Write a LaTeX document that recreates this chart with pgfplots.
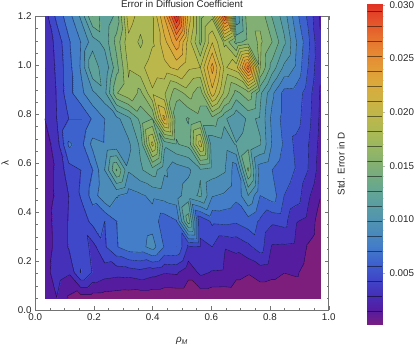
\documentclass[border=0pt]{standalone}
\usepackage{pgfplots}
\pgfplotsset{compat=1.18}
\usepackage{fontspec}
\setmainfont{Liberation Sans}
\makeatletter
% std. error in units of 1e-5; rows from y=0.05 (r0) to y=1.2 (r11), 24 columns from x=0.032 to x=0.970
\newcount\cc
\newcommand\setrow[2]{\global\cc=0 \@for\vv:=#2\do{\expandafter\xdef\csname V@#1@\the\cc\endcsname{\vv}\global\advance\cc 1 }}
\setrow{0}{240,278,120,75,75,70,60,50,40,40,40,40,40,40,40,40,50,50,40,40,40,40,40,30}
\setrow{1}{220,350,300,565,410,350,330,340,370,330,290,300,183,310,270,265,177,150,200,177,143,160,80,50}
\setrow{2}{210,320,430,530,370,540,690,780,790,900,690,700,400,415,420,290,316,386,490,265,260,250,125,50}
\setrow{3}{210,330,430,480,600,560,700,740,760,780,620,690,1350,430,590,600,580,640,540,446,470,290,240,70}
\setrow{4}{220,300,420,570,760,950,850,780,820,870,900,930,1050,1150,850,820,740,980,700,780,560,500,310,150}
\setrow{5}{230,300,500,560,700,980,1420,1000,1100,1200,1000,900,950,1100,1050,1000,750,1420,750,700,620,550,420,220}
\setrow{6}{210,350,720,650,880,850,880,950,1150,1870,1150,1250,1300,1900,1000,1050,1130,1220,1130,830,680,520,430,240}
\setrow{7}{280,420,560,560,720,840,940,1080,1300,1400,2150,1300,1250,1350,1350,1150,1000,1150,1100,800,650,620,470,260}
\setrow{8}{280,430,650,800,950,1070,1530,1650,1500,1800,1700,1450,1600,1450,2050,1650,1350,1500,1150,870,650,640,490,270}
\setrow{9}{280,450,650,850,1250,1000,1350,1700,1780,1900,1920,2000,1850,1820,2300,1800,1900,2600,1550,1200,950,820,560,300}
\setrow{10}{300,470,680,840,1050,1170,1450,1780,1650,1800,2050,2350,1900,1500,1950,1650,1350,1450,1570,1400,1150,850,600,290}
\setrow{11}{350,600,780,1000,1400,1150,1300,1900,1750,1800,2250,2950,2050,1500,1650,2700,1000,1500,1500,1250,1050,750,530,270}
\def\XX#1{\the\numexpr320+408*#1\relax}
\def\YY#1{\the\numexpr500+#1*11500/11\relax}
\def\VV#1#2{\csname V@#1@#2\endcsname}
\gdef\fillcoords{}
\foreach \r in {0,...,11}{\foreach \c in {0,...,23}{%
  \xdef\fillcoords{\fillcoords (\XX{\c}e-4,\YY{\r}e-4) [\VV{\r}{\c}]}}}
\newcount\nc
\def\cross#1#2#3#4#5#6{%
  \ifnum\numexpr\ifnum#3<\numexpr\L\relax 1\else 0\fi+\ifnum#6<\numexpr\L\relax 1\else 0\fi\relax=1
    \xdef\segs{\segs(\the\numexpr#1+(#4-#1)*(\L-#3)/(#6-#3)\relax e-4,\the\numexpr#2+(#5-#2)*(\L-#3)/(#6-#3)\relax e-4)}%
    \global\advance\nc 1
  \fi}
\def\tri#1#2#3#4#5#6#7#8#9{%
  \global\nc=0
  \cross{#1}{#2}{#3}{#4}{#5}{#6}%
  \cross{#4}{#5}{#6}{#7}{#8}{#9}%
  \cross{#7}{#8}{#9}{#1}{#2}{#3}%
  \ifnum\nc>0 \xdef\segs{\segs(nan,nan)}\fi}
\foreach \k in {1,...,21}{%
  \edef\L{\the\numexpr140*\k\relax}%
  \gdef\segs{}%
  \foreach \r in {0,...,10}{\foreach \c in {0,...,22}{%
    \edef\ra{\r}\edef\rb{\the\numexpr\r+1\relax}\edef\ca{\c}\edef\cb{\the\numexpr\c+1\relax}%
    \edef\xa{\XX{\ca}}\edef\xb{\XX{\cb}}\edef\ya{\YY{\ra}}\edef\yb{\YY{\rb}}%
    \edef\A{\VV{\ra}{\ca}}\edef\B{\VV{\ra}{\cb}}\edef\C{\VV{\rb}{\ca}}\edef\D{\VV{\rb}{\cb}}%
    \tri{\xa}{\ya}{\A}{\xb}{\ya}{\B}{\xa}{\yb}{\C}%
    \tri{\xb}{\ya}{\B}{\xb}{\yb}{\D}{\xa}{\yb}{\C}%
  }}%
  \expandafter\xdef\csname segs\k\endcsname{\segs}%
}
\makeatother
\pgfplotsset{colormap={mma}{
rgb255=(125,30,125) rgb255=(85,28,160) rgb255=(68,48,185) rgb255=(62,72,200) rgb255=(62,98,205)
rgb255=(68,125,200) rgb255=(75,140,185) rgb255=(85,152,170) rgb255=(95,162,155) rgb255=(110,170,135)
rgb255=(130,175,115) rgb255=(150,182,100) rgb255=(170,185,85) rgb255=(188,183,75) rgb255=(205,178,68)
rgb255=(218,170,60) rgb255=(226,155,55) rgb255=(230,135,50) rgb255=(230,110,46) rgb255=(228,80,42) rgb255=(225,50,38)}}
\definecolor{fr}{gray}{0.45}
\begin{document}
\begin{tikzpicture}[x=1pt,y=1pt]
\path[use as bounding box] (0,0) rectangle (415,346);
\begin{axis}[at={(35.3pt,35.7pt)},anchor=south west,scale only axis,width=293.4pt,height=294pt,
 xmin=0,xmax=1,ymin=0,ymax=1.2,
 xtick={0,0.2,...,1.0},ytick={0,0.2,...,1.2},minor tick num=3,
 tick align=inside,xtick pos=both,ytick pos=both,
 axis line style={fr,line width=0.5pt},tick style={fr,line width=0.4pt},
 major tick length=4pt,minor tick length=2.2pt,
 xticklabel pos=bottom,yticklabel pos=left,
 /pgf/number format/fixed,/pgf/number format/zerofill,/pgf/number format/precision=1,
 /pgf/number format/assume math mode=true,
 tick label style={font=\fontsize{9.8}{11}\selectfont,inner sep=0pt,text=black!85},
 xticklabel style={yshift=-3pt},yticklabel style={xshift=-3.5pt},
 colormap name=mma,point meta min=0,point meta max=2940,
 unbounded coords=jump]
\edef\tmp{\noexpand\addplot[contour filled={number=21},mesh/cols=24,point meta=explicit] coordinates {\fillcoords};}\tmp
\pgfplotsforeachungrouped \k in {1,...,21}{%
 \edef\tmp{\noexpand\addplot[black,opacity=0.6,line width=0.35pt,line cap=round,mark=none,forget plot] coordinates {\csname segs\k\endcsname};}\tmp}
\end{axis}
\begin{axis}[at={(367.3pt,22pt)},anchor=south west,scale only axis,width=15pt,height=320pt,
 xmin=0,xmax=1,ymin=24,ymax=3009,
 hide x axis,axis y line=right,axis line style={draw=none},
 ytick={500,1000,1500,2000,2500,3000},
 yticklabels={0.005,0.010,0.015,0.020,0.025,0.030},
 minor y tick num=4,
 major tick style={fr!50,line width=0.3pt},minor tick style={fr!25,line width=0.25pt},
 major tick length=3pt,minor tick length=2pt,tick align=outside,
 tick label style={font=\fontsize{9.8}{11}\selectfont,inner sep=0pt,text=black!85,xshift=4pt},
 colormap name=mma,point meta min=0,point meta max=2940]
\addplot[surf,shader=interp,mesh/cols=2,point meta=explicit] coordinates {(0,24)[24] (1,24)[24] (0,3009)[3009] (1,3009)[3009]};
\pgfplotsforeachungrouped \k in {1,...,21}{%
 \edef\tmp{\noexpand\addplot[black,opacity=0.5,line width=0.4pt,mark=none,forget plot] coordinates {(0,\the\numexpr140*\k\relax) (1,\the\numexpr140*\k\relax)};}\tmp}
\end{axis}
\node[font=\fontsize{9.8}{11}\selectfont,text=black!85,anchor=base] at (182,338) {Error in Diffusion Coefficient};
\node[font=\fontsize{9.8}{11}\selectfont,text=black!85,rotate=90] at (5,183) {λ};
\node[font=\fontsize{9.8}{11}\selectfont,text=black!85] at (182,5) {\textit{ρ}\textsubscript{\textit{M}}};
\node[font=\fontsize{9.8}{11}\selectfont,text=black!85,rotate=90] at (341,182) {Std. Error in D};
\end{tikzpicture}
\end{document}
